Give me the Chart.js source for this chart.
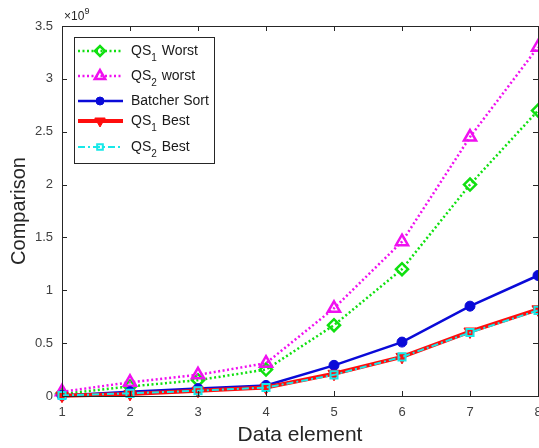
<!DOCTYPE html>
<html lang="en">
<head>
    <meta charset="utf-8">
    <title>Comparison vs Data element</title>
    <script src="https://cdn.jsdelivr.net/npm/chart.js"></script>
    <style>
        html, body { margin: 0; padding: 0; background: #fff; }
        #wrap { width: 539px; height: 448px; }
    </style>
</head>
<body>
    <div id="wrap"><canvas id="chart"></canvas></div>

    <script>
        // x categories (data element index)
        const elements = ['1', '2', '3', '4', '5', '6', '7', '8'];
        // y values, number of comparisons
        const qs1Worst = [0.02e9, 0.09e9, 0.15e9, 0.25e9, 0.67e9, 1.2e9, 2.0e9, 2.7e9];
        const qs2Worst = [0.04e9, 0.13e9, 0.2e9, 0.31e9, 0.83e9, 1.46e9, 2.45e9, 3.3e9];
        const batcher = [0.005e9, 0.04e9, 0.07e9, 0.1e9, 0.29e9, 0.51e9, 0.85e9, 1.14e9];
        const qs1Best = [0.003e9, 0.02e9, 0.05e9, 0.08e9, 0.21e9, 0.37e9, 0.61e9, 0.82e9];
        const qs2Best = [0.005e9, 0.025e9, 0.05e9, 0.08e9, 0.2e9, 0.37e9, 0.6e9, 0.81e9];
        const yTicks = [0, 0.5e9, 1e9, 1.5e9, 2e9, 2.5e9, 3e9, 3.5e9];

        const FONT = '"Liberation Sans", Arial, Helvetica, sans-serif';
        const GREEN = '#10e010', MAGENTA = '#f010f0', BLUE = '#0a0ad8', RED = '#ff0d0d', CYAN = '#18e8e8';

        // legend rows: [base, subscript, rest]
        const legendRows = [
            { name: ['QS', '1', ' Worst'], ds: 0 },
            { name: ['QS', '2', ' worst'], ds: 1 },
            { name: ['Batcher Sort', '', ''], ds: 2 },
            { name: ['QS', '1', ' Best'], ds: 3 },
            { name: ['QS', '2', ' Best'], ds: 4 }
        ];

        const matlabFrame = {
            id: 'matlabFrame',
            afterDatasetsDraw(chart) {
                const { ctx, chartArea: a, scales } = chart;
                ctx.save();
                ctx.strokeStyle = '#262626';
                ctx.lineWidth = 1;
                ctx.strokeRect(a.left + 0.5, a.top + 0.5, a.right - a.left, a.bottom - a.top);
                // inward ticks
                ctx.beginPath();
                scales.x.ticks.forEach((t, i) => {
                    const px = Math.round(scales.x.getPixelForTick(i)) + 0.5;
                    ctx.moveTo(px, a.bottom); ctx.lineTo(px, a.bottom - 5);
                    ctx.moveTo(px, a.top); ctx.lineTo(px, a.top + 5);
                });
                yTicks.forEach(v => {
                    const py = Math.round(scales.y.getPixelForValue(v)) + 0.5;
                    ctx.moveTo(a.left, py); ctx.lineTo(a.left + 5, py);
                    ctx.moveTo(a.right, py); ctx.lineTo(a.right - 5, py);
                });
                ctx.stroke();

                // exponent label
                ctx.fillStyle = '#262626';
                ctx.textBaseline = 'alphabetic';
                ctx.font = '12px ' + FONT;
                ctx.fillText('\u00d710', a.left + 2, 20);
                ctx.font = '9px ' + FONT;
                ctx.fillText('9', a.left + 2 + ctx.measureText('x').width + 16, 14);

                // legend
                const bx = 74, by = 37, bw = 140, bh = 126;
                ctx.fillStyle = '#fff';
                ctx.fillRect(bx, by, bw, bh);
                ctx.strokeStyle = '#262626';
                ctx.strokeRect(bx + 0.5, by + 0.5, bw, bh);
                const rowY = [51, 76, 101, 121, 147];
                legendRows.forEach((r, i) => {
                    const ds = chart.data.datasets[r.ds];
                    const y = rowY[i];
                    ctx.save();
                    ctx.strokeStyle = ds.borderColor;
                    ctx.lineWidth = ds.borderWidth;
                    ctx.setLineDash(ds.borderDash || []);
                    ctx.beginPath();
                    ctx.moveTo(78, y); ctx.lineTo(123, y);
                    ctx.stroke();
                    ctx.restore();

                    ctx.save();
                    ctx.fillStyle = ds.pointBackgroundColor;
                    ctx.strokeStyle = ds.borderColor;
                    ctx.lineWidth = ds.pointBorderWidth;
                    Chart.helpers.drawPoint(ctx, {
                        pointStyle: ds.pointStyle,
                        radius: ds.pointRadius - 1,
                        rotation: ds.pointRotation || 0,
                        borderWidth: ds.pointBorderWidth
                    }, 100, y);
                    ctx.restore();

                    ctx.fillStyle = '#1a1a1a';
                    ctx.textBaseline = 'middle';
                    ctx.font = '14px ' + FONT;
                    let x = 131;
                    ctx.fillText(r.name[0], x, y);
                    x += ctx.measureText(r.name[0]).width;
                    if (r.name[1]) {
                        ctx.font = '10px ' + FONT;
                        ctx.fillText(r.name[1], x, y + 7);
                        x += ctx.measureText(r.name[1]).width + 1;
                        ctx.font = '14px ' + FONT;
                        ctx.fillText(r.name[2], x, y);
                    }
                });
                ctx.restore();
            }
        };

        const common = { clip: false, tension: 0, pointHoverRadius: 6 };

        new Chart(document.getElementById('chart'), {
            type: 'line',
            data: {
                labels: elements,
                datasets: [{
                    ...common,
                    label: 'QS1 Worst', data: qs1Worst,
                    borderColor: GREEN, borderWidth: 2.5, borderDash: [2, 2.5],
                    pointStyle: 'rectRot', pointRadius: 6, pointBorderWidth: 2.5,
                    pointBackgroundColor: 'rgba(255,255,255,0)', pointBorderColor: GREEN,
                    order: 5
                }, {
                    ...common,
                    label: 'QS2 worst', data: qs2Worst,
                    borderColor: MAGENTA, borderWidth: 2.5, borderDash: [2, 2.5],
                    pointStyle: 'triangle', pointRadius: 7, pointBorderWidth: 2.5,
                    pointBackgroundColor: 'rgba(255,255,255,0)', pointBorderColor: MAGENTA,
                    order: 4
                }, {
                    ...common,
                    label: 'Batcher Sort', data: batcher,
                    borderColor: BLUE, borderWidth: 2.5,
                    pointStyle: 'circle', pointRadius: 5, pointBorderWidth: 1,
                    pointBackgroundColor: BLUE, pointBorderColor: BLUE,
                    order: 3
                }, {
                    ...common,
                    label: 'QS1 Best', data: qs1Best,
                    borderColor: RED, borderWidth: 4,
                    pointStyle: 'triangle', pointRotation: 180, pointRadius: 7, pointBorderWidth: 1,
                    pointBackgroundColor: RED, pointBorderColor: RED,
                    order: 2
                }, {
                    ...common,
                    label: 'QS2 Best', data: qs2Best,
                    borderColor: CYAN, borderWidth: 2, borderDash: [7, 3, 2, 3],
                    pointStyle: 'rect', pointRadius: 5, pointBorderWidth: 2,
                    pointBackgroundColor: 'rgba(255,255,255,0)', pointBorderColor: CYAN,
                    order: 1
                }]
            },
            options: {
                responsive: true,
                maintainAspectRatio: false,
                animation: false,
                layout: { autoPadding: false, padding: { top: 26, right: 1, left: 0, bottom: 0 } },
                plugins: { legend: { display: false }, tooltip: { enabled: false } },
                scales: {
                    x: {
                        grid: { display: false, drawTicks: false },
                        border: { display: false },
                        ticks: { color: '#404040', font: { family: FONT, size: 13 }, padding: 9, maxRotation: 0 },
                        title: { display: true, text: 'Data element', color: '#262626', font: { family: FONT, size: 21 }, padding: { top: 2, bottom: 0 } },
                        afterFit(s) { s.height = 52; s.paddingLeft = 0; s.paddingRight = 0; }
                    },
                    y: {
                        min: 0, max: 3.5e9,
                        grid: { display: false, drawTicks: false },
                        border: { display: false },
                        afterBuildTicks(s) { s.ticks = yTicks.map(v => ({ value: v })); },
                        ticks: {
                            color: '#404040', font: { family: FONT, size: 13 }, padding: 9,
                            callback: v => String(v / 1e9)
                        },
                        title: { display: true, text: 'Comparison', color: '#262626', font: { family: FONT, size: 20 }, padding: { top: 7, bottom: 4 } },
                        afterFit(s) { s.width = 62; s.paddingTop = 0; s.paddingBottom = 0; }
                    }
                }
            },
            plugins: [matlabFrame]
        });
    </script>
</body>
</html>
